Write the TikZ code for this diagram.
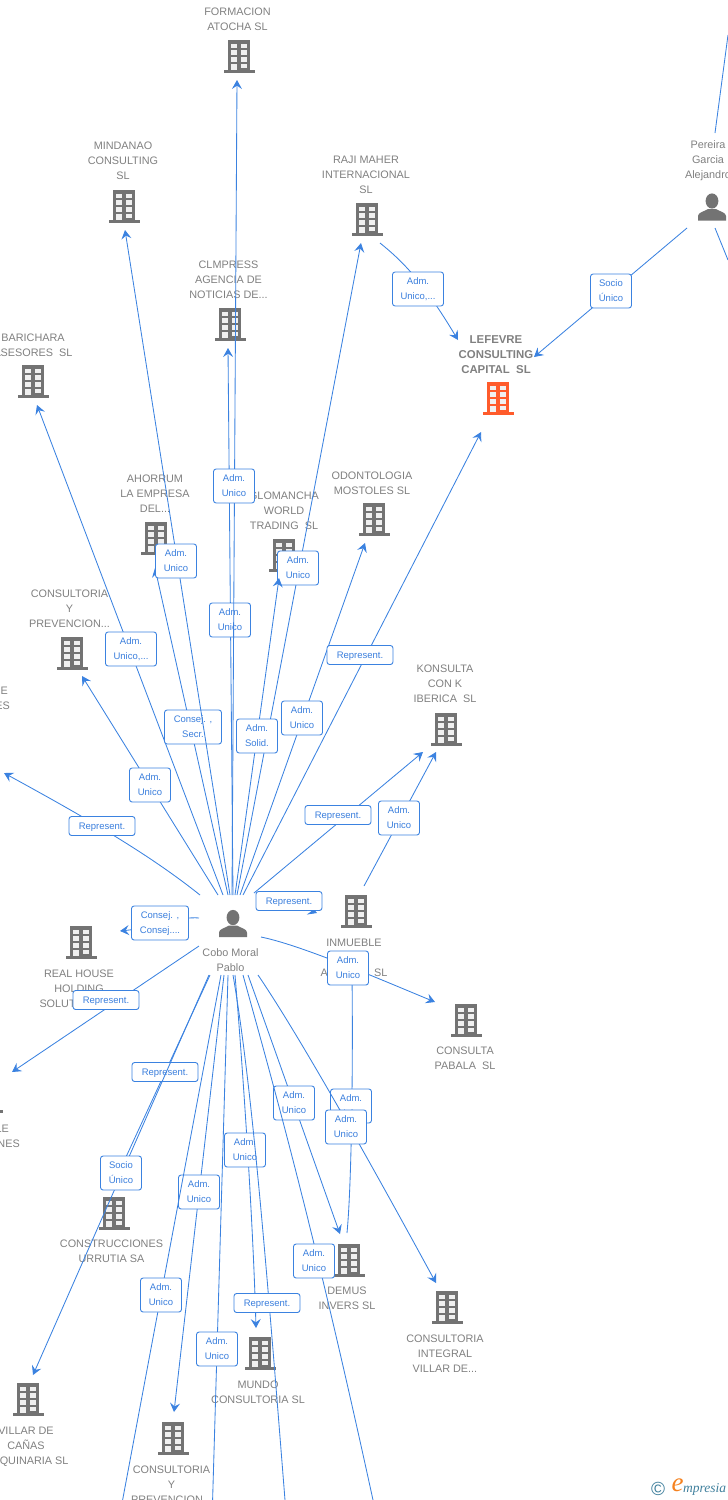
\documentclass[tikz,border=0pt]{standalone}
\usepackage{fontspec}
\setmainfont{Liberation Sans}
\newfontfamily\logofont{Liberation Serif}
\usetikzlibrary{arrows.meta}
\definecolor{lnk}{HTML}{3B82E0}
\definecolor{labtxt}{HTML}{3B7FDD}
\definecolor{nametxt}{HTML}{808080}
\definecolor{icon}{HTML}{737373}
\definecolor{hot}{HTML}{FF5B2B}
\definecolor{logoa}{HTML}{3F7F9C}
\definecolor{logob}{HTML}{F58220}
\tikzset{
  conn/.style={draw=lnk,line width=0.85pt,-{Stealth[length=9pt,width=10pt,inset=3.4pt]}},
  plainconn/.style={draw=lnk,line width=0.85pt},
  labbase/.style={draw=lnk,line width=0.9pt,fill=white,text=labtxt,rounded corners=2.6pt,inner sep=0pt,align=center,font=\fontsize{9.5}{15}\selectfont},
  labu/.style={labbase,minimum width=41pt,minimum height=34pt},
  labw/.style={labbase,minimum width=51pt,minimum height=34pt},
  labc/.style={labbase,minimum width=57pt,minimum height=34pt},
  labs/.style={labbase,minimum width=54pt,minimum height=34pt},
  labr/.style={labbase,minimum width=66pt,minimum height=19pt},
  namebox/.style={text=nametxt,inner sep=0pt,align=center,anchor=north,font=\fontsize{10.85}{15}\selectfont},
  namehot/.style={namebox,font=\fontsize{11.4}{15}\selectfont\bfseries},
  edgename/.style={text=nametxt,anchor=east,inner sep=0pt,font=\fontsize{10.85}{15}\selectfont},
  iconbox/.style={minimum width=32pt,minimum height=34pt,inner sep=0pt}
}
\newcommand{\Bldg}[4]{%
  \node[iconbox] (#1) at (#2,#3) {};
  \begin{scope}[shift={(#2,#3)}]
    \fill[#4] (-11,-17) rectangle (11,13);
    \fill[#4] (-15.5,13) rectangle (15.5,16.2);
    \foreach \ry/\rh in {-12.7/4,-6.7/4.6,-0.3/4.9}{
      \fill[white!94!black] (-7.6,\ry) rectangle (-2,\ry+\rh);
      \fill[white!94!black] (2.2,\ry) rectangle (7.8,\ry+\rh);
    }
    \fill[white!94!black] (2.2,6.7) rectangle (7.8,11.3);
    \fill[white!94!black] (-7.6,6.7) rectangle (-2,13);
  \end{scope}}
\newcommand{\Pers}[3]{%
  \node[iconbox,minimum width=28pt,minimum height=27pt] (#1) at (#2,#3) {};
  \begin{scope}[shift={(#2,#3)}]
    \fill[icon] (0,-6) ellipse (6.4 and 7.6);
    \fill[icon] (-14,13.5) -- (-14,9) .. controls (-14,5.5) and (-8,4.5) .. (-4,2) -- (4,2) .. controls (8,4.5) and (14,5.5) .. (14,9) -- (14,13.5) -- cycle;
  \end{scope}}
\newcommand{\Name}[5][namebox]{\node[#1] (#2) at (#3,#4-3) {#5};}
\newcommand{\Link}[7][conn]{%
  \coordinate (#2-a) at #3;
  \coordinate (#2-b) at #4;
  \draw[#1] (#2-a) -- (#2-b);
  \node[#5] (#2-l) at #6 {\raisebox{-0.6pt}{\begin{tabular}{@{}c@{}}#7\end{tabular}}};}
\newcommand{\Curv}[9][conn]{%
  \coordinate (#2-a) at #3;
  \coordinate (#2-b) at #6;
  \draw[#1] (#2-a) .. controls #4 and #5 .. (#2-b);
  \node[#7] (#2-l) at #8 {\raisebox{-0.6pt}{\begin{tabular}{@{}c@{}}#9\end{tabular}}};}
\renewcommand{\arraystretch}{1}
\begin{document}
\begin{tikzpicture}[x=1pt,y=-1pt]
\useasboundingbox (0,0) rectangle (728,1500);
\clip (0,0) rectangle (728,1500);
% companies
\Bldg{formacion}{239}{57}{icon}
\Name{nformacion}{237.5}{11}{FORMACION\\ATOCHA SL}
\Bldg{mindanao}{124}{207}{icon}
\Name{nmindanao}{123}{145}{MINDANAO\\CONSULTING\\SL}
\Bldg{raji}{367}{220}{icon}
\Name{nraji}{366}{159}{RAJI MAHER\\INTERNACIONAL\\SL}
\Bldg{clmpress}{230}{325}{icon}
\Name{nclmpress}{228.5}{264}{CLMPRESS\\AGENCIA DE\\NOTICIAS DE...}
\Bldg{barichara}{33}{382}{icon}
\Name{nbarichara}{33}{337}{BARICHARA\\ASESORES\ \ SL}
\Bldg{lefevre}{498}{399}{hot}
\Name[namehot]{nlefevre}{496}{338}{LEFEVRE\\CONSULTING\\CAPITAL\ \ SL}
\Bldg{ahorrum}{156}{539}{icon}
\Name{nahorrum}{155}{478}{AHORRUM\\LA EMPRESA\\DEL...}
\Bldg{glomancha}{284}{556}{icon}
\Name{nglomancha}{284}{495}{GLOMANCHA\\WORLD\\TRADING\ \ SL}
\Bldg{odonto}{374}{520}{icon}
\Name{nodonto}{372}{475}{ODONTOLOGIA\\MOSTOLES SL}
\Bldg{consprev}{72}{654}{icon}
\Name{nconsprev}{69.5}{593}{CONSULTORIA\\Y\\PREVENCION...}
\Bldg{konsulta}{446}{730}{icon}
\Name{nkonsulta}{445}{668}{KONSULTA\\CON K\\IBERICA\ \ SL}
\Bldg{inmueble}{356}{912}{icon}
\Name{ninmueble}{354}{942}{INMUEBLE\\ \\ACTIVOS\ \ SL}
\Bldg{realhouse}{81}{943}{icon}
\Name{nrealhouse}{79}{973}{REAL HOUSE\\HOLDING\\SOLUTIONS SL}
\Bldg{pabala}{466}{1021}{icon}
\Name{npabala}{465}{1050}{CONSULTA\\PABALA\ \ SL}
\Bldg{offleft}{-13}{1097}{icon}
\node[edgename] (nle) at (9,1129) {LE};
\node[edgename] (nnes) at (20,1144) {NES};
\node[edgename] (ne) at (8,691) {E};
\node[edgename] (nes) at (10,706) {ES};
\Bldg{urrutia}{114}{1214}{icon}
\Name{nurrutia}{111.5}{1243}{CONSTRUCCIONES\\URRUTIA SA}
\Bldg{demus}{349}{1261}{icon}
\Name{ndemus}{347}{1290}{DEMUS\\INVERS SL}
\Bldg{integral}{447}{1308}{icon}
\Name{nintegral}{445}{1338}{CONSULTORIA\\INTEGRAL\\VILLAR DE...}
\Bldg{mundo}{260}{1354}{icon}
\Name{nmundo}{258}{1384}{MUNDO\\CONSULTORIA SL}
\Bldg{villar}{28}{1400}{icon}
\Name{nvillar}{26}{1430}{VILLAR DE\\CAÑAS\\MAQUINARIA SL}
\Bldg{prevb}{173}{1439}{icon}
\Name{nprevb}{171.5}{1469}{CONSULTORIA\\Y\\PREVENCION...}
% people
\Pers{hub}{233}{923.5}
\Name{nhub}{230.5}{951}{Cobo Moral\\Pablo}
\Pers{pereira}{712}{207}
\Name{npereira}{708}{143}{Pereira\\Garcia\\Alejandro}
% connectors, back to front
\Curv{toback}{(200,895)}{(150,855)}{(90,820)}{(4,773)}{labr}{(102,826)}{Represent.}
\Link{tocons}{(218,895)}{(82,676)}{labu}{(150,785)}{Adm.\\Unico}
\Link{tobari}{(223,895)}{(37,405)}{labw}{(131,649)}{Adm.\\Unico,...}
\Link{toahor}{(228,895)}{(155,568)}{labc}{(193,727)}{Consej. ,\\Secr.}
\Link{tomind}{(230,895)}{(125,230)}{labu}{(176,561)}{Adm.\\Unico}
\Link{toclm}{(233,895)}{(228,348)}{labu}{(230,620)}{Adm.\\Unico}
\Link{toform}{(232,895)}{(237,80)}{labu}{(234,486)}{Adm.\\Unico}
\Link{toraji}{(237,895)}{(361,243)}{labu}{(298,568)}{Adm.\\Unico}
\Link{toglom}{(235,895)}{(279,578)}{labu}{(257,736)}{Adm.\\Solid.}
\Link{toodon}{(240,895)}{(365,543)}{labu}{(302,718)}{Adm.\\Unico}
\Link{tolef}{(243,895)}{(481,432)}{labr}{(360,655)}{Represent.}
\Link{tokons}{(254,893)}{(423,752)}{labr}{(338,815)}{Represent.}
\Link{tokonsb}{(364,886)}{(436,752)}{labu}{(399,818)}{Adm.\\Unico}
\Link{toinm}{(261,892)}{(317,913)}{labr}{(289,901)}{Represent.}
\Curv{toreal}{(199,918)}{(180,916)}{(150,928)}{(120,931)}{labc}{(160,923)}{Consej. ,\\Consej....}
\Link{tooff}{(199,946)}{(12,1072)}{labr}{(106,1000)}{Represent.}
\Curv[plainconn]{inmdem}{(347,1233)}{(352,1180)}{(353,1050)}{(352,975)}{labu}{(351,1106)}{Adm.\\Unico}
\Curv{topab}{(261,937)}{(300,945)}{(370,975)}{(435,1002)}{labu}{(348,968)}{Adm.\\Unico}
\Link{tourr}{(210,975)}{(120,1170)}{labr}{(165,1072)}{Represent.}
\Link{tovill}{(209,975)}{(33,1375)}{labu}{(121,1173)}{Socio\\Único}
\Link{toprev}{(224,975)}{(174,1412)}{labu}{(199,1192)}{Adm.\\Unico}
\Link[plainconn]{downa}{(221,975)}{(122.6,1500)}{labu}{(161,1295)}{Adm.\\Unico}
\Link[plainconn]{downb}{(228,975)}{(212.6,1500)}{labu}{(217,1349)}{Adm.\\Unico}
\Curv{tomun}{(235,975)}{(243,1070)}{(253,1220)}{(256,1328)}{labu}{(245,1150)}{Adm.\\Unico}
\Curv[plainconn]{downc}{(233,975)}{(252,1085)}{(266,1260)}{(285,1500)}{labr}{(267,1303)}{Represent.}
\Curv{todem}{(248,975)}{(275,1050)}{(310,1150)}{(340,1234)}{labu}{(294,1103)}{Adm.\\Unico}
\Curv[plainconn]{downd}{(243,975)}{(272,1080)}{(312,1220)}{(373,1500)}{labu}{(314,1261)}{Adm.\\Unico}
\Curv{toint}{(258,975)}{(292,1025)}{(350,1125)}{(436,1283)}{labu}{(346,1127)}{Adm.\\Unico}
% Pereira
\Link{perlef}{(687,228)}{(534,357)}{labu}{(611,291)}{Socio\\Único}
\Curv{rajilef}{(380,243)}{(405,263)}{(425,285)}{(458,340)}{labw}{(418,289)}{Adm.\\Unico,...}
\coordinate (peru) at (715,133);
\coordinate (perut) at (728,35);
\draw[plainconn] (peru) -- (perut);
\coordinate (perd) at (715,228);
\coordinate (perdt) at (728,260);
\draw[plainconn] (perd) -- (perdt);
% logo
\node[text=logoa,inner sep=0pt,font=\fontsize{19}{19}\selectfont] (logoc) at (658,1489) {©};
\node[text=logob,inner sep=0pt,font=\logofont\itshape\fontsize{27}{27}\selectfont] (logoe) at (677.5,1485.5) {e};
\node[text=logoa,inner sep=0pt,anchor=west,font=\logofont\itshape\fontsize{13.5}{14}\selectfont] (logom) at (683,1489) {mpresia};
\end{tikzpicture}
\end{document}
